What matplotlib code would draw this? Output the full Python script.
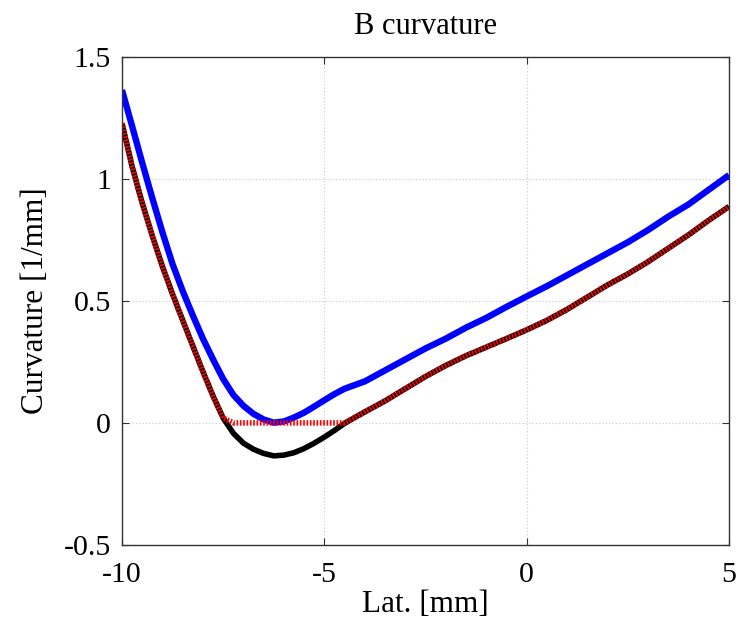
import numpy as np
import matplotlib
matplotlib.use("Agg")
import matplotlib.pyplot as plt

plt.rcParams["font.family"] = ["Liberation Serif", "DejaVu Serif"]
plt.rcParams["axes.unicode_minus"] = False

lat = [-10, -9.75, -9.5, -9.25, -9.0, -8.75, -8.5, -8.25, -8.0, -7.75, -7.5,
       -7.25, -7.0, -6.75, -6.5, -6.25, -6.0, -5.75, -5.5, -5.25, -5.0, -4.75,
       -4.5, -4.25, -4.0, -3.5, -3.0, -2.5, -2.0, -1.5, -1.0, -0.5, 0, 0.5, 1,
       1.5, 2, 2.5, 3, 3.5, 4, 4.5, 5]

curv_black = [1.227, 1.05, 0.9, 0.765, 0.64, 0.527, 0.42, 0.315, 0.21, 0.11,
              0.02, -0.042, -0.083, -0.108, -0.125, -0.135, -0.132, -0.122,
              -0.105, -0.083, -0.058, -0.031, -0.002, 0.022, 0.045, 0.09,
              0.14, 0.19, 0.235, 0.275, 0.31, 0.345, 0.381, 0.42, 0.465,
              0.515, 0.565, 0.61, 0.66, 0.715, 0.77, 0.83, 0.886]

curv_blue = [1.363, 1.215, 1.065, 0.92, 0.78, 0.65, 0.54, 0.44, 0.345, 0.26,
             0.18, 0.115, 0.07, 0.037, 0.014, 0.001, 0.006, 0.022, 0.042,
             0.067, 0.093, 0.118, 0.14, 0.155, 0.17, 0.215, 0.26, 0.305,
             0.345, 0.39, 0.43, 0.475, 0.518, 0.56, 0.605, 0.65, 0.695, 0.74,
             0.79, 0.845, 0.895, 0.955, 1.015]

# red curve = black curve clipped at zero
curv_red = np.maximum(np.array(curv_black), 0.0)

fig = plt.figure(figsize=(7.43, 6.27), dpi=100)
ax = fig.add_axes([0.1642, 0.1308, 0.817, 0.7789])

ax.plot(lat, curv_blue, color="#0000ff", lw=4.6, solid_capstyle="butt",
        solid_joinstyle="round")
ax.plot(lat, curv_black, color="black", lw=4.0, solid_capstyle="butt",
        solid_joinstyle="round")
ax.plot(lat, curv_red, color="red", lw=4.0, linestyle=(0, (0.3, 0.3)))

ax.set_xlim(-10, 5)
ax.set_ylim(-0.5, 1.5)
ax.set_xticks([-10, -5, 0, 5])
ax.set_xticklabels(["-10", "-5", "0", "5"])
ax.set_yticks([-0.5, 0, 0.5, 1, 1.5])
ax.set_yticklabels(["-0.5", "0", "0.5", "1", "1.5"])

ax.grid(True, color="#c8c8c8", linestyle=(0, (1, 2)), lw=0.8)
ax.tick_params(direction="in", top=True, right=True, length=5, width=0.8,
               labelsize=21.5, colors="#333333", labelcolor="black")
ax.tick_params(axis="x", pad=12)
ax.tick_params(axis="y", pad=8)
for s in ax.spines.values():
    s.set_color("#333333")
    s.set_linewidth(1.0)

ax.set_title("B curvature", fontsize=22, pad=16)
ax.set_xlabel("Lat. [mm]", fontsize=22.5, labelpad=2)
ax.set_ylabel("Curvature [1/mm]", fontsize=22.5, labelpad=10)

fig.savefig("out.png", dpi=100)
